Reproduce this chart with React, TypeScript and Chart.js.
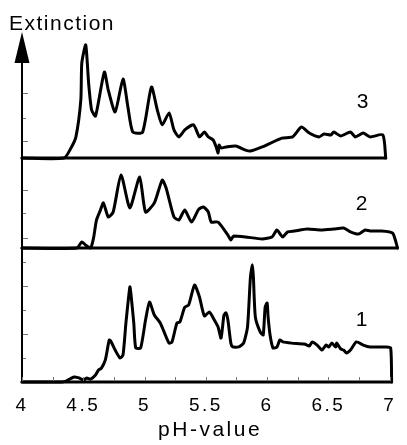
import { useEffect, useRef } from 'react';
import { Chart, registerables } from 'chart.js';

Chart.register(...registerables);

// ---- data (pH, extinction in arbitrary units) ----
const curve1PH = [4.0, 4.32, 4.36, 4.424, 4.464, 4.504, 4.528, 4.56, 4.6, 4.624, 4.648, 4.68, 4.712, 4.728, 4.76, 4.8, 4.824, 4.848, 4.88, 4.888, 4.912, 4.928, 4.968, 5.008, 5.04, 5.08, 5.128, 5.16, 5.2, 5.224, 5.264, 5.288, 5.328, 5.36, 5.408, 5.448, 5.488, 5.528, 5.56, 5.6, 5.624, 5.648, 5.664, 5.68, 5.704, 5.72, 5.768, 5.808, 5.84, 5.864, 5.88, 5.888, 5.904, 5.944, 5.968, 5.984, 6.0, 6.008, 6.024, 6.048, 6.08, 6.104, 6.128, 6.2, 6.304, 6.344, 6.368, 6.408, 6.448, 6.48, 6.504, 6.528, 6.56, 6.568, 6.6, 6.624, 6.648, 6.68, 6.728, 6.784, 6.84, 6.968, 7.008, 7.016];
const curve1Ext = [0, 0, 0.04, 0.21, 0.17, 0.08, 0.17, 0.12, 0.29, 0.5, 0.58, 0.92, 1.75, 1.67, 1.33, 1.0, 1.12, 2.46, 3.96, 3.71, 2.46, 1.42, 1.42, 2.58, 3.33, 2.79, 2.46, 2.08, 1.62, 1.67, 2.46, 2.5, 3.12, 3.21, 4.04, 3.54, 2.75, 2.92, 2.67, 2.29, 1.83, 2.79, 2.88, 2.58, 1.62, 1.46, 1.46, 1.62, 2.29, 4.38, 4.88, 4.38, 2.71, 2.08, 1.96, 3.12, 3.29, 2.71, 1.96, 1.42, 1.46, 1.75, 1.67, 1.62, 1.58, 1.5, 1.67, 1.54, 1.33, 1.54, 1.46, 1.62, 1.46, 1.62, 1.38, 1.33, 1.21, 1.33, 1.67, 1.54, 1.46, 1.46, 1.42, 0];

const curve2PH = [4.0, 4.448, 4.488, 4.52, 4.56, 4.584, 4.608, 4.64, 4.664, 4.704, 4.744, 4.808, 4.88, 4.96, 5.008, 5.08, 5.144, 5.176, 5.24, 5.28, 5.328, 5.384, 5.44, 5.48, 5.52, 5.544, 5.6, 5.68, 5.704, 5.72, 5.728, 5.824, 5.96, 6.04, 6.08, 6.112, 6.128, 6.168, 6.224, 6.328, 6.44, 6.544, 6.624, 6.68, 6.744, 6.8, 6.84, 6.92, 7.024, 7.064];
const curve2Ext = [0, 0, 0.25, 0.12, 0, 0.42, 1.17, 1.58, 1.88, 1.29, 1.5, 3.04, 1.67, 2.96, 1.5, 1.88, 2.83, 2.5, 1.29, 1.17, 1.58, 1.08, 1.6, 1.71, 1.5, 1.08, 1.08, 0.54, 0.33, 0.46, 0.5, 0.46, 0.38, 0.46, 0.75, 0.54, 0.46, 0.67, 0.71, 0.79, 0.75, 0.79, 0.83, 0.67, 0.58, 0.75, 0.71, 0.71, 0.62, 0];

const curve3PH = [4.0, 4.344, 4.4, 4.44, 4.48, 4.488, 4.52, 4.544, 4.568, 4.6, 4.672, 4.704, 4.76, 4.824, 4.864, 4.904, 4.984, 5.056, 5.104, 5.144, 5.2, 5.24, 5.28, 5.328, 5.4, 5.448, 5.488, 5.52, 5.56, 5.584, 5.6, 5.608, 5.624, 5.664, 5.744, 5.824, 5.864, 5.96, 6.12, 6.208, 6.28, 6.344, 6.424, 6.464, 6.52, 6.544, 6.6, 6.68, 6.72, 6.784, 6.84, 6.944, 6.968];
const curve3Ext = [0, 0, 0.42, 0.88, 2.42, 3.96, 4.71, 3.1, 2.0, 1.75, 3.58, 2.83, 1.92, 3.29, 2.13, 1.08, 1.08, 2.96, 2.0, 1.38, 1.88, 1.17, 0.88, 1.17, 1.38, 0.88, 1.08, 0.88, 0.75, 0.46, 0.21, 0.54, 0.42, 0.46, 0.5, 0.33, 0.29, 0.46, 0.83, 0.88, 1.29, 1.04, 0.88, 1.0, 0.96, 1.08, 0.92, 1.08, 0.88, 1.04, 0.88, 0.96, 0];

// ---- axes / ticks ----
const xTickValues = [4, 4.25, 4.5, 4.75, 5, 5.25, 5.5, 5.75, 6, 6.25, 6.5, 6.75, 7];
const xTickLabels = ['4', '', '4.5', '', '5', '', '5.5', '', '6', '', '6.5', '', '7'];
const xTitle = 'pH-value';
const yTitle = 'Extinction';

const panel1Ticks = [1, 2, 3, 4, 5];
const panel1Long = [false, true, false, true, false];
const panel2Ticks = [0.42, 1.46, 2.42];
const panel2Long = [true, false, true];
const panel3Ticks = [0.71, 1.67, 2.71];
const panel3Long = [true, false, true];

const panelNames = ['1', '2', '3'];
const panelLabelPH = [6.77, 6.77, 6.78];
const panelLabelExt = [2.58, 1.83, 2.33];

const FONT = '"Liberation Sans", Arial, Helvetica, sans-serif';

const toPoints = (xs: number[], ys: number[]) => xs.map((x, i) => ({ x, y: ys[i] }));
const baseOf = (xs: number[]) => [{ x: xs[0], y: 0 }, { x: xs[xs.length - 1], y: 0 }];

const setSpacing = (ctx: any, v: string) => {
  try { ctx.letterSpacing = v; } catch (e) { /* ignore */ }
};

const decorPlugin = {
  id: 'decor',
  beforeDraw(chart: any) {
    // wider text spacing for axis tick labels and title, as in the original figure
    setSpacing(chart.ctx, '2.5px');
  },
  afterDraw(chart: any) {
    const { ctx, chartArea, scales } = chart;
    const left = chartArea.left;
    const bottom = chartArea.bottom;
    ctx.save();
    // y axis line
    ctx.strokeStyle = '#000';
    ctx.lineWidth = 2;
    ctx.beginPath();
    ctx.moveTo(left, chartArea.top + 20);
    ctx.lineTo(left, bottom + 1);
    ctx.stroke();
    // arrow head
    ctx.fillStyle = '#000';
    ctx.beginPath();
    ctx.moveTo(left, chartArea.top - 8);
    ctx.lineTo(left - 7.5, chartArea.top + 23);
    ctx.lineTo(left + 7.5, chartArea.top + 23);
    ctx.closePath();
    ctx.fill();

    // y ticks (inward)
    ctx.strokeStyle = '#777';
    ctx.lineWidth = 1;
    const panels = [
      { axis: 'y1', ticks: panel1Ticks, long: panel1Long },
      { axis: 'y2', ticks: panel2Ticks, long: panel2Long },
      { axis: 'y3', ticks: panel3Ticks, long: panel3Long },
    ];
    panels.forEach((p) => {
      const s = scales[p.axis];
      p.ticks.forEach((v, i) => {
        const y = Math.round(s.getPixelForValue(v)) + 0.5;
        ctx.beginPath();
        ctx.moveTo(left + 1, y);
        ctx.lineTo(left + (p.long[i] ? 6 : 4), y);
        ctx.stroke();
      });
    });
    // x ticks (inward)
    xTickValues.forEach((v) => {
      const px = Math.round(scales.x.getPixelForValue(v)) + 0.5;
      ctx.beginPath();
      ctx.moveTo(px, bottom - 1);
      ctx.lineTo(px, bottom - 5);
      ctx.stroke();
    });

    // texts
    ctx.fillStyle = '#000';
    ctx.font = `21px ${FONT}`;
    ctx.textAlign = 'left';
    ctx.textBaseline = 'alphabetic';
    setSpacing(ctx, '1.5px');
    ctx.fillText(yTitle, 9, 30);
    setSpacing(ctx, '0px');

    ctx.font = `21px ${FONT}`;
    ctx.textAlign = 'center';
    ctx.textBaseline = 'middle';
    ['y1', 'y2', 'y3'].forEach((ax, i) => {
      const px = scales.x.getPixelForValue(panelLabelPH[i]);
      const py = scales[ax].getPixelForValue(panelLabelExt[i]);
      ctx.fillText(panelNames[i], px, py);
    });
    ctx.restore();
    setSpacing(ctx, '0px');
  },
};

export default function App() {
  const ref = useRef<HTMLCanvasElement>(null);
  useEffect(() => {
    if (!ref.current) return;
    const ds = (data: { x: number; y: number }[], axis: string, label: string, tension: number) => ({
      label,
      data,
      yAxisID: axis,
      xAxisID: 'x',
      borderColor: '#000',
      backgroundColor: '#000',
      borderWidth: 3,
      pointRadius: 0,
      tension,
      fill: false,
      clip: 4,
      borderJoinStyle: 'round' as const,
      borderCapStyle: 'round' as const,
    });
    const chart = new Chart(ref.current, {
      type: 'line',
      data: {
        datasets: [
          ds(toPoints(curve1PH, curve1Ext), 'y1', 'Curve 1', 0.2),
          ds(baseOf(curve1PH), 'y1', 'Baseline 1', 0),
          ds(toPoints(curve2PH, curve2Ext), 'y2', 'Curve 2', 0.2),
          ds(baseOf(curve2PH), 'y2', 'Baseline 2', 0),
          ds(toPoints(curve3PH, curve3Ext), 'y3', 'Curve 3', 0.2),
          ds(baseOf(curve3PH), 'y3', 'Baseline 3', 0),
        ],
      },
      options: {
        responsive: false,
        animation: false,
        events: [],
        layout: { padding: { left: 22, top: 40, right: 2, bottom: 0 } },
        plugins: { legend: { display: false }, tooltip: { enabled: false } },
        scales: {
          x: {
            type: 'linear',
            position: 'bottom',
            min: 4,
            max: 7.07,
            grid: { display: false, drawTicks: false },
            border: { display: false },
            afterBuildTicks: (s: any) => {
              s.ticks = xTickValues.map((v) => ({ value: v }));
            },
            afterFit: (s: any) => {
              s.height = 63;
            },
            ticks: {
              autoSkip: false,
              maxRotation: 0,
              color: '#000',
              padding: 12,
              font: { family: FONT, size: 19 },
              callback: (_v: any, i: number) => xTickLabels[i],
            },
            title: {
              display: true,
              text: xTitle,
              color: '#000',
              font: { family: FONT, size: 21 },
              padding: { top: 0, bottom: 2 },
            },
          },
          y1: { type: 'linear', position: 'left', stack: 'panels', stackWeight: 134, min: 0, max: 5.583, display: false },
          y2: { type: 'linear', position: 'left', stack: 'panels', stackWeight: 90, min: 0, max: 3.75, display: false },
          y3: { type: 'linear', position: 'left', stack: 'panels', stackWeight: 118, min: 0, max: 4.917, display: false },
        },
      } as any,
      plugins: [decorPlugin],
    });
    return () => chart.destroy();
  }, []);
  return (
    <div style={{ position: 'absolute', left: 0, top: 0, width: 407, height: 445, background: '#fff' }}>
      <canvas ref={ref} width={407} height={445} style={{ display: 'block' }} />
    </div>
  );
}
